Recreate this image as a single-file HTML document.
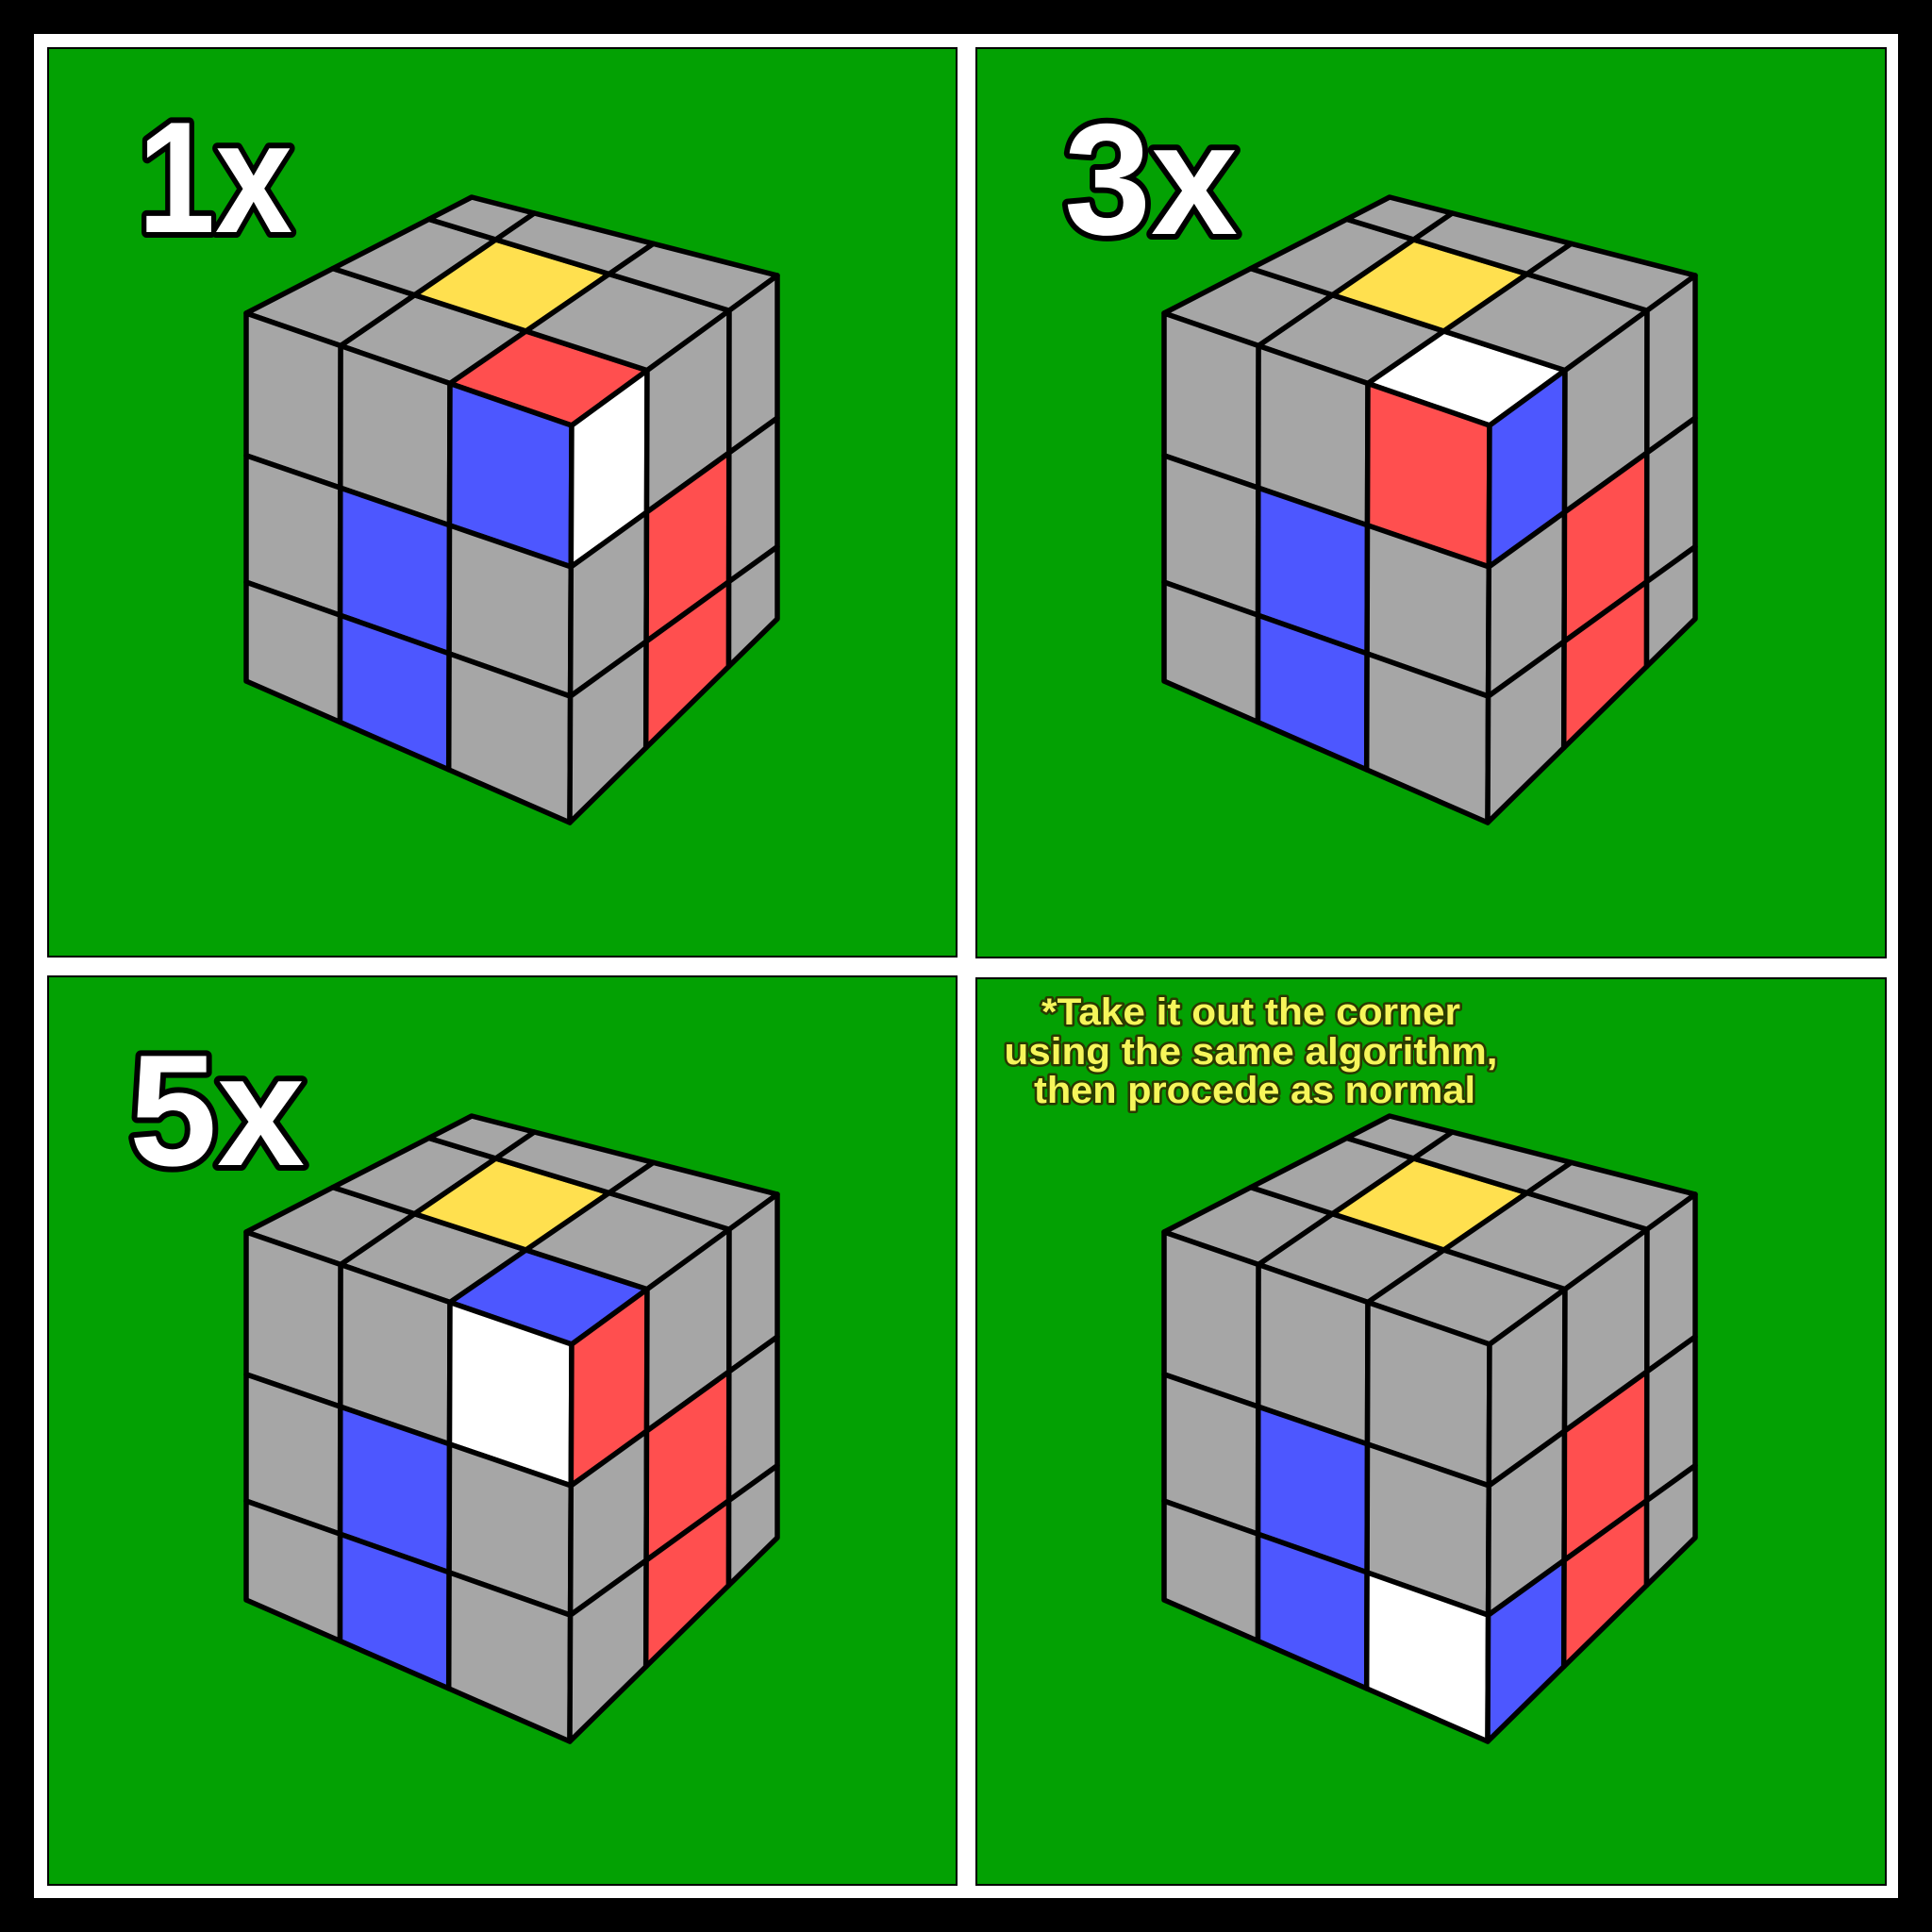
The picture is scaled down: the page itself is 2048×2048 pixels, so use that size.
<!DOCTYPE html>
<html><head><meta charset="utf-8"><style>
html,body{margin:0;padding:0;background:#000;}
svg{display:block;}
</style></head><body>
<svg id="stage" width="2048" height="2048" viewBox="0 0 2048 2048" xmlns="http://www.w3.org/2000/svg">
  <rect x="0" y="0" width="2048" height="2048" fill="#000"/>
  <rect x="36" y="36" width="1976" height="1976" fill="#fff"/>
  <rect x="51" y="51" width="963" height="963" fill="#03a103" stroke="#000" stroke-width="2"/>
  <rect x="1035" y="51" width="964" height="964" fill="#03a103" stroke="#000" stroke-width="2"/>
  <rect x="51" y="1035" width="963" height="963" fill="#03a103" stroke="#000" stroke-width="2"/>
  <rect x="1035" y="1037" width="964" height="961" fill="#03a103" stroke="#000" stroke-width="2"/>
  <g id="cubes"></g>
  <g font-family="'Liberation Sans', sans-serif" font-weight="bold" fill="#fff" stroke="#000" stroke-width="12" stroke-linejoin="round" paint-order="stroke">
    <text x="146" y="246" font-size="168" textLength="164" lengthAdjust="spacingAndGlyphs">1x</text>
    <text x="1128" y="248" font-size="168" textLength="184" lengthAdjust="spacingAndGlyphs">3x</text>
    <text x="137" y="1235" font-size="168" textLength="186" lengthAdjust="spacingAndGlyphs">5x</text>
  </g>
  <g font-family="'Liberation Sans', sans-serif" font-weight="bold" font-size="40" fill="#f6f65a" stroke="#2a3a00" stroke-width="5" stroke-linejoin="round" paint-order="stroke" text-anchor="middle">
    <text x="1326" y="1086" textLength="444" lengthAdjust="spacingAndGlyphs">*Take it out the corner</text>
    <text x="1326" y="1128" textLength="523" lengthAdjust="spacingAndGlyphs">using the same algorithm,</text>
    <text x="1330" y="1169" textLength="468" lengthAdjust="spacingAndGlyphs">then procede as normal</text>
  </g>
</svg>
<script>
const panelNames = ['cube-1x','cube-3x','cube-5x','cube-final'];
const panelOffsets = [[0,0],[973,0],[0,974],[973,974]];
const topStickers   = [{'2,0':'R'},{'2,0':'W'},{'2,0':'B'},{}];
const leftStickers  = [{'2,0':'B','1,1':'B','1,2':'B'},{'2,0':'R','1,1':'B','1,2':'B'},{'2,0':'W','1,1':'B','1,2':'B'},{'1,1':'B','1,2':'B','2,2':'W'}];
const rightStickers = [{'0,0':'W','1,1':'R','1,2':'R'},{'0,0':'B','1,1':'R','1,2':'R'},{'0,0':'R','1,1':'R','1,2':'R'},{'0,2':'B','1,1':'R','1,2':'R'}];
const centerSticker = 'Y';
const palette = {G:'#a6a6a6',Y:'#ffe04f',R:'#ff4f4f',B:'#4d57ff',W:'#ffffff'};

const L=[261,332],Bk=[500,209],Rt=[824,292],F=[606,451],FB=[604,872],LB=[261,722],RB=[824,656];
const faces = {
  top:  {c:[L,F,Bk,Rt], t:[0.29,0.626], b:[0.205,0.594], l:[0.385,0.81], r:[0.367,0.766]},
  left: {c:[L,F,LB,FB], t:[0.29,0.626], b:[0.29,0.626], l:[0.387,0.731], r:[0.356,0.682]},
  right:{c:[F,Rt,FB,RB], t:[0.367,0.766], b:[0.367,0.766], l:[0.356,0.682], r:[0.415,0.79]}
};
function lerp(a,b,t){return [a[0]+(b[0]-a[0])*t,a[1]+(b[1]-a[1])*t];}
function inter(p1,p2,p3,p4){
  const d=(p1[0]-p2[0])*(p3[1]-p4[1])-(p1[1]-p2[1])*(p3[0]-p4[0]);
  const a=p1[0]*p2[1]-p1[1]*p2[0], b=p3[0]*p4[1]-p3[1]*p4[0];
  return [(a*(p3[0]-p4[0])-(p1[0]-p2[0])*b)/d,(a*(p3[1]-p4[1])-(p1[1]-p2[1])*b)/d];
}
function grid(f){
  const [c00,c30,c03,c33]=f.c;
  const ft=[0,...f.t,1], fb=[0,...f.b,1], fl=[0,...f.l,1], fr=[0,...f.r,1];
  const g=[];
  for(let i=0;i<4;i++){g.push([]);for(let j=0;j<4;j++){
    const T=lerp(c00,c30,ft[i]),Bo=lerp(c03,c33,fb[i]),Le=lerp(c00,c03,fl[j]),Ri=lerp(c30,c33,fr[j]);
    g[i].push(inter(T,Bo,Le,Ri));
  }}
  return g;
}
const NS='http://www.w3.org/2000/svg';
const root=document.getElementById('cubes');
const grids={top:grid(faces.top),left:grid(faces.left),right:grid(faces.right)};
panelOffsets.forEach((off,p)=>{
  const g=document.createElementNS(NS,'g');
  g.setAttribute('transform','translate('+off[0]+','+off[1]+')');
  
  
  root.appendChild(g);
  const maps={top:topStickers[p],left:leftStickers[p],right:rightStickers[p]};
  ['top','left','right'].forEach(fn=>{
    const gr=grids[fn];
    for(let i=0;i<3;i++)for(let j=0;j<3;j++){
      let col=maps[fn][i+','+j]||'G';
      if(fn==='top'&&i===1&&j===1) col=centerSticker;
      const pts=[gr[i][j],gr[i+1][j],gr[i+1][j+1],gr[i][j+1]].map(q=>q[0].toFixed(1)+','+q[1].toFixed(1)).join(' ');
      const poly=document.createElementNS(NS,'polygon');
      poly.setAttribute('points',pts);
      poly.setAttribute('fill',palette[col]);
      poly.setAttribute('stroke','#000');
      poly.setAttribute('stroke-width','5.5');
      poly.setAttribute('stroke-linejoin','round');
      
      
      g.appendChild(poly);
    }
  });
});
</script>
</body></html>
